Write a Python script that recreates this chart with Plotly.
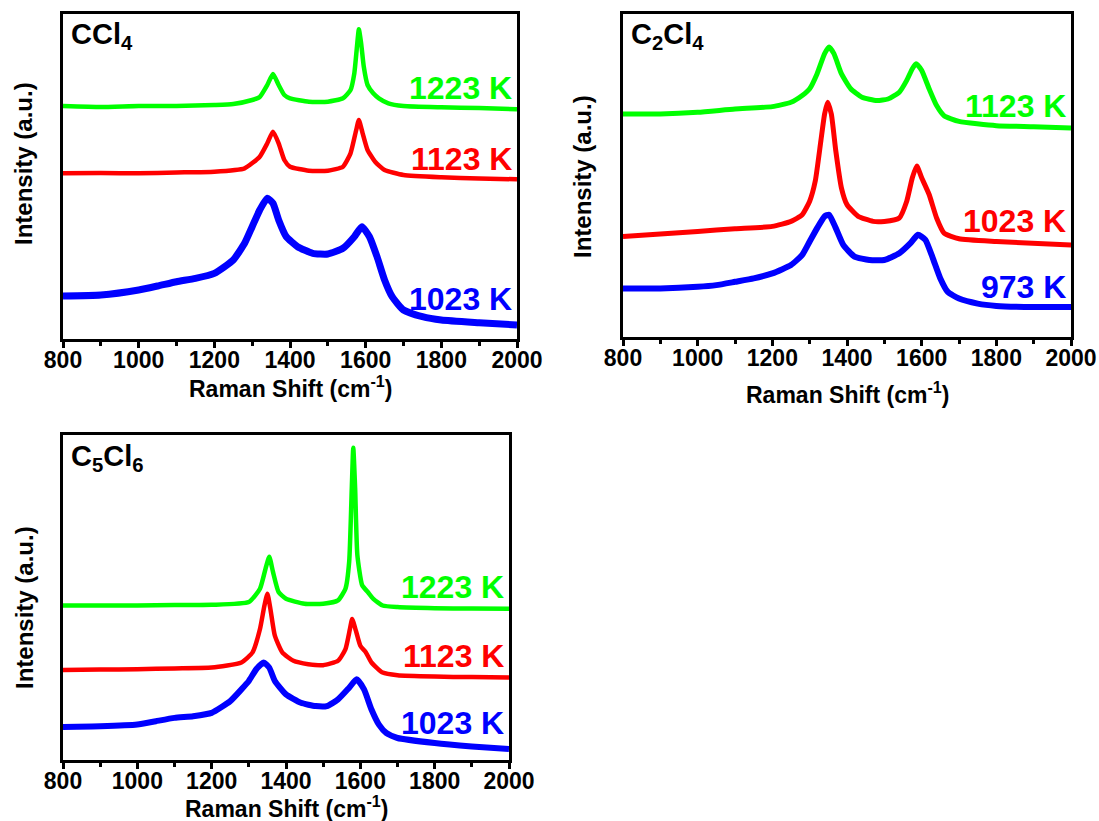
import plotly.graph_objects as go

# ---------------- data (Raman shift in cm^-1, intensity in a.u.) ----------------
# Panel 1: CCl4
ccl4_1223_x = [800, 900, 1000, 1100, 1200, 1250, 1300, 1320, 1340, 1355, 1370, 1385, 1400, 1450, 1500, 1540, 1560, 1570, 1577, 1582, 1588, 1595, 1605, 1620, 1635, 1660, 1700, 1800, 1900, 2000]
ccl4_1223_y = [233, 232, 233, 233, 234, 235, 239, 242, 254, 265, 254, 244, 240.7, 237.3, 237.3, 240.7, 249, 265.7, 292.3, 309.7, 295.7, 272.3, 254, 245.7, 240.7, 235.7, 233, 231.7, 231, 229.7]
ccl4_1123_x = [800, 900, 1000, 1100, 1200, 1280, 1320, 1340, 1355, 1370, 1385, 1400, 1450, 1500, 1540, 1560, 1575, 1582, 1592, 1605, 1625, 1650, 1700, 1800, 1900, 2000]
ccl4_1123_y = [165.7, 166, 165.7, 166.5, 167.3, 170.7, 182.3, 195.7, 207.3, 195.7, 179, 172.3, 168.3, 168.3, 172.3, 185.7, 209, 219, 205.7, 189, 177.3, 169, 164, 161.7, 160.5, 159.7]
ccl4_1023_x = [800, 900, 1000, 1050, 1100, 1150, 1200, 1250, 1280, 1300, 1320, 1340, 1355, 1370, 1390, 1420, 1460, 1500, 1540, 1570, 1590, 1610, 1630, 1650, 1670, 1700, 1750, 1800, 1900, 2000]
ccl4_1023_y = [43, 44, 49, 53, 57.3, 60.7, 65.7, 79, 95.7, 112.3, 129, 140.7, 135.7, 119, 102.3, 92.3, 85.7, 85, 90.7, 102.3, 112.3, 102.3, 82.3, 59, 42.3, 29, 22.3, 19, 16.3, 14]

# Panel 2: C2Cl4
c2cl4_1123_x = [800, 900, 1000, 1100, 1200, 1250, 1280, 1300, 1320, 1340, 1352, 1365, 1385, 1410, 1440, 1480, 1510, 1540, 1560, 1575, 1585, 1600, 1620, 1640, 1660, 1700, 1800, 1900, 2000]
c2cl4_1123_y = [223, 223, 224.7, 228, 230.4, 234.7, 241.5, 248.2, 263.3, 283.4, 290, 283.4, 263.3, 248.2, 239.8, 236.4, 238, 244.8, 256.6, 268.3, 273.3, 266.6, 248.2, 231.4, 221.3, 215.6, 211.3, 210.3, 209]
c2cl4_1023_x = [800, 900, 1000, 1100, 1200, 1250, 1280, 1300, 1315, 1330, 1340, 1348, 1358, 1370, 1385, 1400, 1430, 1470, 1500, 1540, 1560, 1575, 1587, 1600, 1620, 1640, 1660, 1700, 1800, 2000]
c2cl4_1023_y = [100.5, 102.9, 105.6, 108.2, 110.6, 115.6, 122.3, 135.8, 155.9, 196.2, 223, 234.7, 223, 186.1, 149.2, 132.4, 120.7, 115.6, 115.6, 119, 135.8, 159.2, 171, 159.2, 142.5, 119, 103.9, 98.2, 95.5, 92.1]
c2cl4_973_x = [800, 900, 1000, 1050, 1100, 1150, 1200, 1250, 1280, 1300, 1320, 1340, 1352, 1370, 1390, 1420, 1460, 1500, 1540, 1570, 1590, 1610, 1630, 1650, 1670, 1700, 1750, 1800, 1900, 2000]
c2cl4_973_y = [48.5, 48.5, 50.2, 51.9, 55.2, 58.6, 63.6, 72, 82.1, 95.5, 108.9, 120.7, 122.3, 108.9, 92.1, 80.4, 77, 77, 83.7, 93.8, 102.2, 97.2, 78.7, 58.6, 45.1, 38.4, 33.4, 31.1, 30, 30]

# Panel 3: C5Cl6
c5cl6_1223_x = [800, 900, 1000, 1100, 1200, 1300, 1330, 1345, 1355, 1365, 1380, 1400, 1450, 1500, 1540, 1560, 1570, 1577, 1581, 1586, 1592, 1605, 1620, 1635, 1660, 1700, 1800, 1900, 2000]
c5cl6_1223_y = [154.5, 154.5, 154.5, 155, 155.2, 157.9, 171.3, 191.4, 203.2, 188.1, 168, 161.2, 156.2, 156.2, 159.6, 171.3, 198.2, 272, 312.2, 272, 204.9, 174.7, 168, 161.2, 154.5, 152.9, 151.8, 151.5, 151.2]
c5cl6_1123_x = [800, 900, 1000, 1100, 1200, 1280, 1310, 1330, 1342, 1350, 1358, 1370, 1390, 1420, 1460, 1500, 1540, 1560, 1572, 1578, 1588, 1600, 1615, 1630, 1660, 1700, 1800, 1900, 2000]
c5cl6_1123_y = [90.1, 90.4, 90.8, 91.6, 92.4, 97.5, 107.6, 131, 154.5, 166.3, 151.2, 124.3, 107.6, 99.2, 95.8, 94.8, 99.2, 110.9, 131, 141.1, 129.4, 114.3, 107.6, 97.5, 87.4, 84.7, 83.4, 82.9, 82.4]
c5cl6_1023_x = [800, 900, 1000, 1050, 1100, 1150, 1200, 1250, 1280, 1300, 1320, 1340, 1355, 1370, 1400, 1440, 1480, 1510, 1540, 1570, 1590, 1610, 1630, 1650, 1670, 1700, 1800, 1900, 2000]
c5cl6_1023_y = [33.1, 33.7, 35.4, 38.8, 42.1, 43.8, 47.1, 58.9, 70.6, 79, 90.8, 97.5, 92.4, 79, 65.6, 57.2, 53.9, 53.9, 60.6, 72.3, 80.7, 70.6, 50.5, 35.4, 27, 22, 17, 13.6, 10.9]

panel_titles = ["CCl<sub>4</sub>", "C<sub>2</sub>Cl<sub>4</sub>", "C<sub>5</sub>Cl<sub>6</sub>"]
panel1_labels = ["1223 K", "1123 K", "1023 K"]
panel2_labels = ["1123 K", "1023 K", "973 K"]
panel3_labels = ["1223 K", "1123 K", "1023 K"]
x_ticks = [800, 1000, 1200, 1400, 1600, 1800, 2000]
x_title = "Raman Shift (cm<sup>-1</sup>)"
y_title = "Intensity (a.u.)"

GREEN, RED, BLUE = "#00FF00", "#FF0000", "#0000FF"
W, H = 1099, 821
FONT = "Liberation Sans, Arial, sans-serif"


def fx(p):
    return p / W


def fy(p):
    return 1 - p / H


fig = go.Figure()

series = [
    ("x", "y", ccl4_1223_x, ccl4_1223_y, GREEN, 4.5),
    ("x", "y", ccl4_1123_x, ccl4_1123_y, RED, 4.5),
    ("x", "y", ccl4_1023_x, ccl4_1023_y, BLUE, 7),
    ("x2", "y2", c2cl4_1123_x, c2cl4_1123_y, GREEN, 5),
    ("x2", "y2", c2cl4_1023_x, c2cl4_1023_y, RED, 5),
    ("x2", "y2", c2cl4_973_x, c2cl4_973_y, BLUE, 6),
    ("x3", "y3", c5cl6_1223_x, c5cl6_1223_y, GREEN, 4.5),
    ("x3", "y3", c5cl6_1123_x, c5cl6_1123_y, RED, 4.5),
    ("x3", "y3", c5cl6_1023_x, c5cl6_1023_y, BLUE, 6),
]
for xa, ya, xs, ys, col, w in series:
    fig.add_trace(go.Scatter(x=xs, y=ys, mode="lines", xaxis=xa, yaxis=ya,
                             line=dict(color=col, width=w, shape="spline", smoothing=0.5),
                             showlegend=False, hoverinfo="skip"))

# panel pixel boxes: (left, right, top, bottom)
boxes = [(63, 517, 14, 339), (623, 1071, 14, 337), (63, 509, 435, 760)]
yranges = [[0, 325], [0, 323], [0, 325]]

xaxis_common = dict(range=[800, 2000], tickvals=x_ticks, ticks="outside", ticklen=6, tickwidth=3,
                    tickcolor="black", showline=True, linewidth=3, linecolor="black", mirror=True,
                    showgrid=False, zeroline=False, automargin=False, ticklabelstandoff=-8,
                    tickfont=dict(family=FONT, size=23, color="black", weight="bold"),
                    minor=dict(ticks="outside", ticklen=4, tickwidth=3, tickcolor="black",
                               dtick=100, tick0=800, showgrid=False))
yaxis_common = dict(showline=True, linewidth=3, linecolor="black", mirror=True, ticks="",
                    showticklabels=False, showgrid=False, zeroline=False, automargin=False)

layout = dict(width=W, height=H, margin=dict(l=0, r=0, t=0, b=0, pad=0, autoexpand=False),
              paper_bgcolor="white", plot_bgcolor="white", showlegend=False)
for i, ((l, r, t, b), yr) in enumerate(zip(boxes, yranges)):
    sfx = "" if i == 0 else str(i + 1)
    layout["xaxis" + sfx] = dict(xaxis_common, domain=[fx(l), fx(r)], anchor="y" + sfx)
    layout["yaxis" + sfx] = dict(yaxis_common, domain=[fy(b), fy(t)], range=yr, anchor="x" + sfx)
fig.update_layout(**layout)

annotations = []
# panel titles
title_pos = [(69, 36), (629, 36), (69, 458)]
for txt, (px, py) in zip(panel_titles, title_pos):
    annotations.append(dict(text="<b>%s</b>" % txt, xref="paper", yref="paper", x=fx(px), y=fy(py),
                            xanchor="left", yanchor="middle", showarrow=False,
                            font=dict(family=FONT, size=29, color="black")))
# x-axis titles
xt_pos = [(290, 387), (847, 393), (286, 807)]
for (px, py) in xt_pos:
    annotations.append(dict(text="<b>%s</b>" % x_title, xref="paper", yref="paper", x=fx(px), y=fy(py),
                            xanchor="center", yanchor="middle", showarrow=False,
                            font=dict(family=FONT, size=23, color="black")))
# y-axis titles
yt_pos = [(24, 164), (582, 176), (24, 608)]
for (px, py) in yt_pos:
    annotations.append(dict(text="<b>%s</b>" % y_title, xref="paper", yref="paper", x=fx(px), y=fy(py),
                            xanchor="center", yanchor="middle", showarrow=False, textangle=-90,
                            font=dict(family=FONT, size=24, color="black")))
# temperature labels
label_sets = [
    (panel1_labels, 514, [88, 159, 299]),
    (panel2_labels, 1068, [106, 221, 287]),
    (panel3_labels, 506, [587, 656, 723]),
]
cols = [GREEN, RED, BLUE]
for labels, right, ys in label_sets:
    for lab, py, col in zip(labels, ys, cols):
        annotations.append(dict(text="<b>%s</b>" % lab, xref="paper", yref="paper", x=fx(right), y=fy(py),
                                xanchor="right", yanchor="middle", showarrow=False,
                                font=dict(family=FONT, size=32, color=col)))
fig.update_layout(annotations=annotations)

fig.write_html("out.html")
